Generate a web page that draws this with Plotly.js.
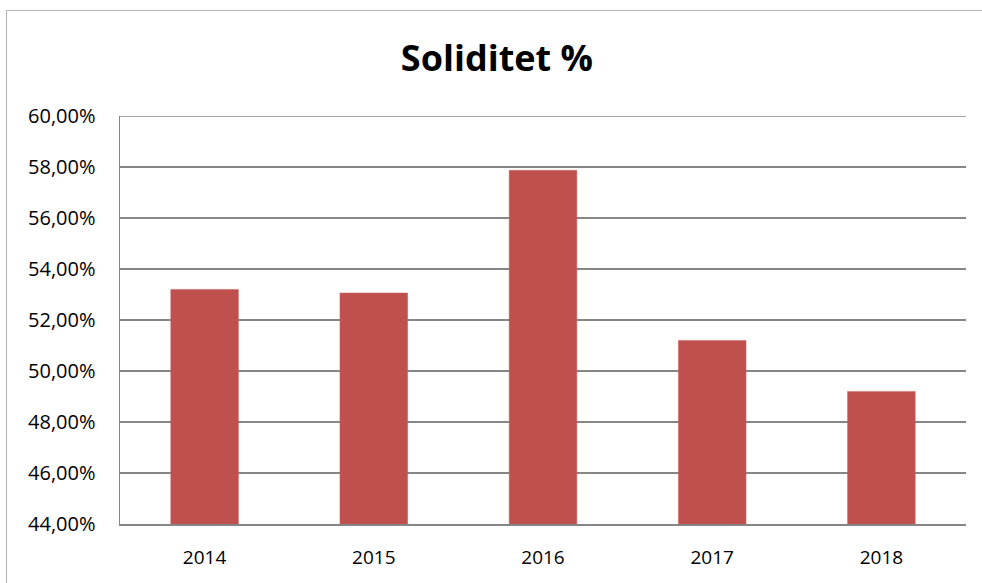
<!DOCTYPE html>
<html>
<head>
<meta charset="utf-8">
<script src="https://cdn.plot.ly/plotly-3.0.1.min.js"></script>
<style>
  html, body { margin: 0; padding: 0; background: #ffffff; }
  #wrap { position: relative; width: 982px; height: 583px; }
  #chart { width: 982px; height: 583px; }
  #frame { position: absolute; left: 6px; top: 10px; width: 990px; height: 600px;
           border-left: 1.5px solid #b4b4b4; border-top: 1.5px solid #b4b4b4; pointer-events: none; }
</style>
</head>
<body>
<div id="wrap">
  <div id="chart"></div>
  <div id="frame"></div>
</div>
<script>
const years = ['2014', '2015', '2016', '2017', '2018'];
const soliditet = [0.5320, 0.5306, 0.5787, 0.5120, 0.4920];
const yTicks = [0.44, 0.46, 0.48, 0.50, 0.52, 0.54, 0.56, 0.58, 0.60];

const trace = {
  type: 'bar',
  x: years,
  y: soliditet,
  marker: { color: '#C0504D', line: { color: '#c86562', width: 0.5 } },
  hoverinfo: 'x+y'
};

const layout = {
  width: 982,
  height: 583,
  margin: { l: 120, r: 16, t: 116, b: 59 },
  paper_bgcolor: '#ffffff',
  plot_bgcolor: '#ffffff',
  separators: ', ',
  bargap: 0.6,
  showlegend: false,
  title: {
    text: '<b>Soliditet %</b>',
    font: { family: 'Open Sans, Noto Sans, sans-serif', size: 36, color: '#000000' },
    x: 0.506, xanchor: 'center',
    y: 0.9, yref: 'container', yanchor: 'middle'
  },
  xaxis: {
    type: 'category',
    showgrid: false,
    showline: true,
    linecolor: '#868686',
    linewidth: 1.5,
    ticks: '',
    tickfont: { family: 'Open Sans, Noto Sans, sans-serif', size: 19, color: '#000000' },
    ticklabelstandoff: 16
  },
  yaxis: {
    range: [0.44, 0.60],
    tickvals: yTicks,
    tickformat: '.2%',
    showgrid: true,
    gridcolor: '#868686',
    gridwidth: 1.5,
    showline: true,
    linecolor: '#868686',
    linewidth: 1.5,
    zeroline: false,
    ticks: '',
    ticklabelstandoff: 19,
    tickfont: { family: 'Open Sans, Noto Sans, sans-serif', size: 20, color: '#000000' }
  },
  shapes: [{
    type: 'line', xref: 'paper', x0: 0, x1: 1, yref: 'y', y0: yTicks[yTicks.length - 1], y1: yTicks[yTicks.length - 1],
    line: { color: '#868686', width: 1.5 }
  }]
};

Plotly.newPlot('chart', [trace], layout, { displayModeBar: false, staticPlot: true });
</script>
</body>
</html>
